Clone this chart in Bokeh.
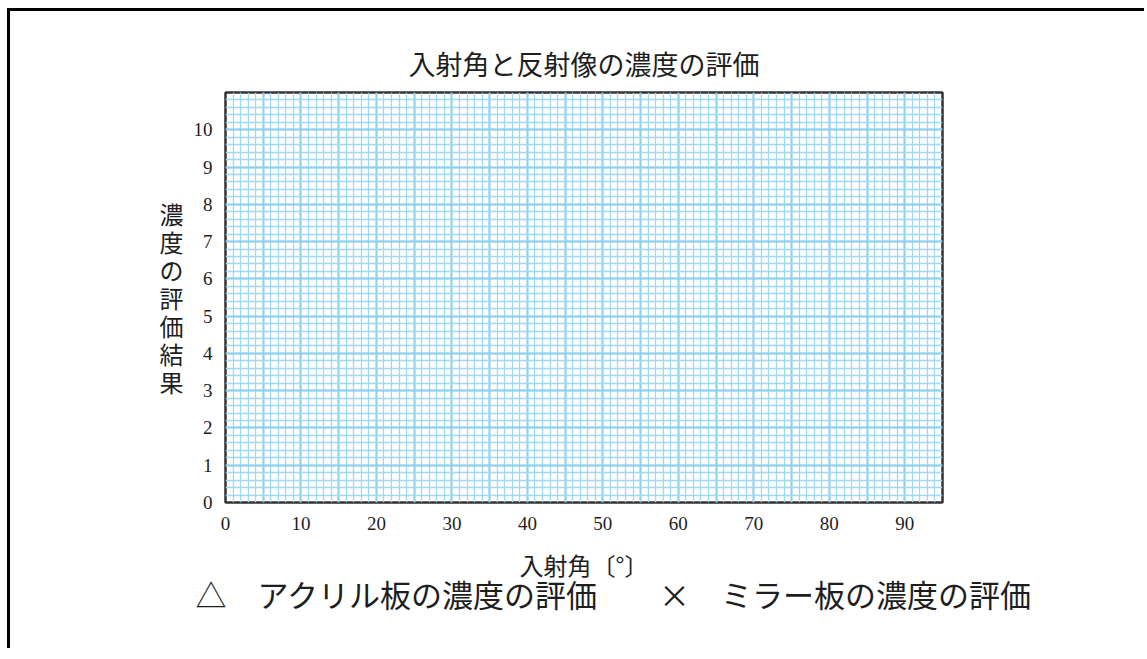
from bokeh.plotting import figure
from bokeh.models import Range1d, SingleIntervalTicker, FixedTicker, Title
from bokeh.embed import file_html
from bokeh.resources import INLINE

# ---- chart content ----
chart_title = "入射角と反射像の濃度の評価"
x_axis_title = "入射角〔°〕"
y_axis_title = "濃度の評価結果"
x_tick_values = [0, 10, 20, 30, 40, 50, 60, 70, 80, 90]
y_tick_values = [0, 1, 2, 3, 4, 5, 6, 7, 8, 9, 10]
x_limits = [0, 95]
y_limits = [0, 11]
legend_labels = ["△　アクリル板の濃度の評価", "×　ミラー板の濃度の評価"]

JP = "Noto Sans CJK JP"
NUM = "Liberation Serif"

p = figure(
    width=1137, height=640,
    output_backend="svg", toolbar_location=None,
    x_range=Range1d(*x_limits), y_range=Range1d(*y_limits),
    min_border_left=215, min_border_right=205,
    min_border_top=81, min_border_bottom=149,
    background_fill_color="white", border_fill_color="white",
)
p.styles = {
    "border-top": "3px solid black", "border-left": "3px solid black",
    "margin-left": "7px", "margin-top": "8px",
}

# title
p.title.text = chart_title
p.title.align = "center"
p.title.text_font = JP
p.title.text_font_size = "27px"
p.title.text_font_style = "normal"
p.title.text_color = "#1e1e1e"
p.title.standoff = 20

# frame outline
p.outline_line_color = "#333333"
p.outline_line_width = 2.5
p.outline_line_alpha = 1.0

# graph-paper grid
p.xgrid.ticker = SingleIntervalTicker(interval=5, num_minor_ticks=5)
p.ygrid.ticker = SingleIntervalTicker(interval=1, num_minor_ticks=5)
for g in (p.xgrid, p.ygrid):
    g.grid_line_color = "#8ccfee"
    g.grid_line_width = 2
    g.grid_line_alpha = 1.0
    g.minor_grid_line_color = "#9ed8f2"
    g.minor_grid_line_width = 1.3
    g.minor_grid_line_alpha = 1.0

# axes
p.xaxis.ticker = FixedTicker(ticks=x_tick_values)
p.yaxis.ticker = FixedTicker(ticks=y_tick_values)
for ax in (p.xaxis, p.yaxis):
    ax.axis_line_color = None
    ax.major_tick_line_color = None
    ax.minor_tick_line_color = None
    ax.major_label_text_font = NUM
    ax.major_label_text_font_size = "19px"
    ax.major_label_text_color = "#1e1e1e"
    ax.axis_label_text_font = JP
    ax.axis_label_text_font_style = "normal"
    ax.axis_label_text_color = "#1e1e1e"
    ax.axis_label_text_font_size = "24px"

p.xaxis.major_label_standoff = 8
p.yaxis.major_label_standoff = 7
p.xaxis.axis_label = x_axis_title
p.xaxis.axis_label_standoff = 14
p.yaxis.axis_label = "\n".join(y_axis_title)
p.yaxis.axis_label_orientation = "horizontal"
p.yaxis.axis_label_text_line_height = 0.8
p.yaxis.axis_label_standoff = 7

# legend-like caption line below the chart
caption = "　　".join(legend_labels)
p.add_layout(Title(
    text=caption, align="left", offset=-30, vertical_align="top",
    text_font=JP, text_font_size="31px", text_font_style="normal",
    text_color="#1e1e1e", standoff=-28,
), "below")

open("out.html", "w").write(file_html(p, INLINE))
